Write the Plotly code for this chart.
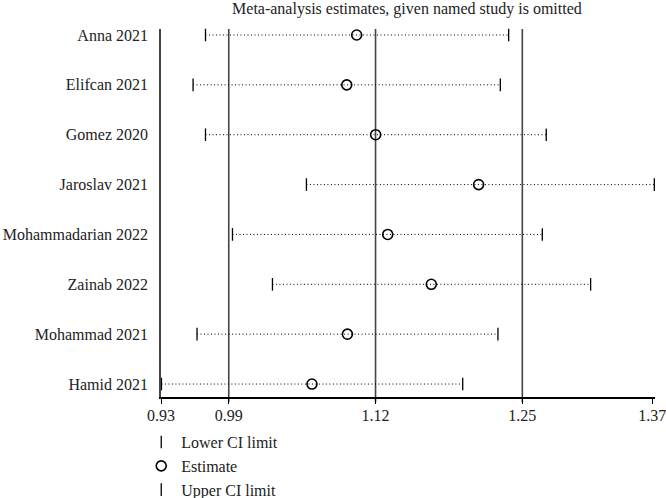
import plotly.graph_objects as go

studies = ["Anna 2021", "Elifcan 2021", "Gomez 2020", "Jaroslav 2021",
           "Mohammadarian 2022", "Zainab 2022", "Mohammad 2021", "Hamid 2021"]
lower = [0.9694, 0.9584, 0.9694, 1.0588, 0.9933, 1.0287, 0.9619, 0.9304]
estimate = [1.1033, 1.0945, 1.1201, 1.2113, 1.1308, 1.1694, 1.0951, 1.0637]
upper = [1.2379, 1.2305, 1.2712, 1.3669, 1.2677, 1.3105, 1.2284, 1.1972]

ref_lines = [0.99, 1.12, 1.25]
tick_vals = [0.93, 0.99, 1.12, 1.25, 1.365]
tick_text = ["0.93", "0.99", "1.12", "1.25", "1.37"]
x_range = [0.93, 1.3675]

FONT = "Liberation Serif"
FS = 16

fig = go.Figure()

# dotted CI lines
lx, ly = [], []
for s, lo, hi in zip(studies, lower, upper):
    lx += [lo, hi, None]
    ly += [s, s, None]
fig.add_trace(go.Scatter(x=lx, y=ly, mode="lines", showlegend=False,
                         line=dict(color="black", width=1, dash="1px,2.5px"),
                         hoverinfo="skip", cliponaxis=False))

fig.add_trace(go.Scatter(x=lower, y=studies, mode="markers", name="Lower CI limit",
                         marker=dict(symbol="line-ns", size=9, color="black",
                                     line=dict(color="black", width=1.3)),
                         cliponaxis=False))
fig.add_trace(go.Scatter(x=estimate, y=studies, mode="markers", name="Estimate",
                         marker=dict(symbol="circle-open", size=10, color="black",
                                     line=dict(color="black", width=1.6)),
                         cliponaxis=False))
fig.add_trace(go.Scatter(x=upper, y=studies, mode="markers", name="Upper CI limit",
                         marker=dict(symbol="line-ns", size=9, color="black",
                                     line=dict(color="black", width=1.3)),
                         cliponaxis=False))

for v in ref_lines:
    fig.add_shape(type="line", x0=v, x1=v, xref="x", yref="paper", y0=-0.014, y1=1,
                  line=dict(color="#444444", width=1.6), layer="below")

fig.update_layout(
    width=666, height=498,
    margin=dict(l=161, r=11, t=29, b=101, autoexpand=False),
    plot_bgcolor="white", paper_bgcolor="white",
    font=dict(family=FONT, size=FS, color="#222222"),
    title=dict(text="Meta-analysis estimates, given named study is omitted",
               x=0.611, xanchor="center", y=1 - 8 / 498, yanchor="middle", yref="container",
               font=dict(family=FONT, size=FS, color="#222222")),
    legend=dict(x=-0.04, y=-0.0765, xanchor="left", yanchor="top",
                font=dict(family=FONT, size=FS, color="#222222"),
                tracegroupgap=0, itemwidth=30, bgcolor="rgba(0,0,0,0)"),
    showlegend=True,
)

fig.update_xaxes(range=x_range, tickvals=tick_vals, ticktext=tick_text, automargin=False,
                 showgrid=False, zeroline=False, showline=True, linecolor="black",
                 linewidth=1.5, ticks="outside", ticklen=5, tickwidth=1.3,
                 ticklabelstandoff=-2, ticklabeloverflow="allow",
                 tickcolor="black", tickfont=dict(family=FONT, size=FS, color="#222222"))
fig.update_yaxes(type="category", categoryorder="array", categoryarray=studies,
                 range=[7.26, -0.12], showgrid=False, zeroline=False, showline=True,
                 automargin=False,
                 linecolor="#444444", linewidth=1.6, ticks="", ticklabelstandoff=8,
                 tickfont=dict(family=FONT, size=FS, color="#222222"))

fig.write_html("out.html", config={"displayModeBar": False},
               post_script="document.body.style.margin='0';document.body.style.overflow='hidden';")
